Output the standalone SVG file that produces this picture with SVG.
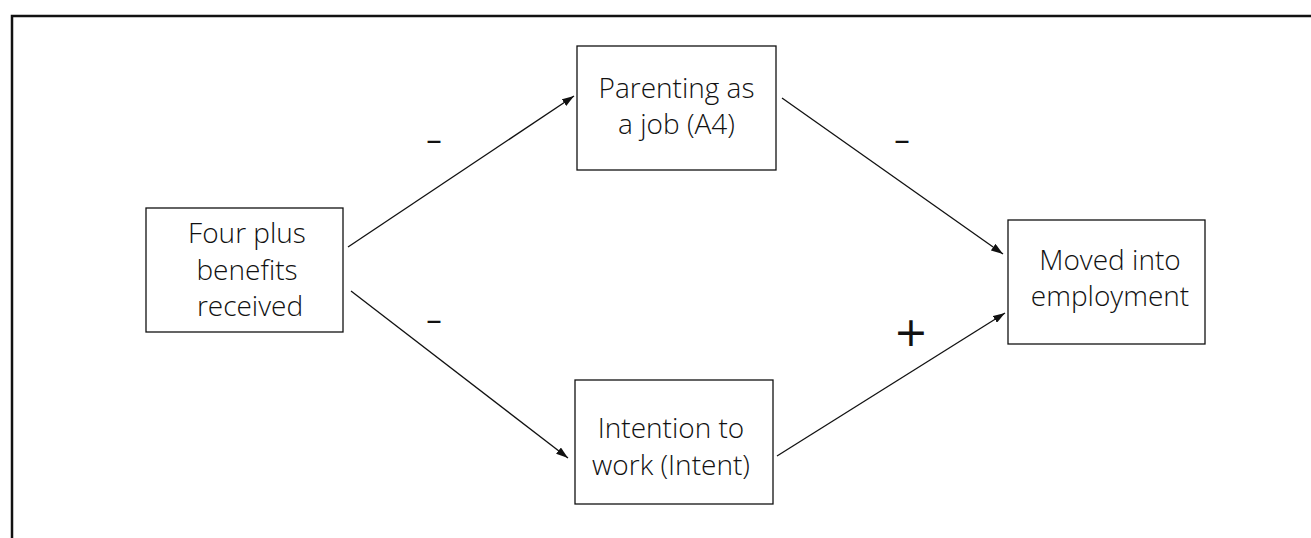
<svg xmlns="http://www.w3.org/2000/svg" width="1311" height="538" viewBox="0 0 1311 538">
<style>
.box{fill:#fff;stroke:#111;stroke-width:1.3}
.lbl{font-family:"Open Sans","Liberation Sans",sans-serif;font-size:28px;font-weight:300;fill:#111;text-anchor:middle}
.sign{font-family:"DejaVu Sans","Liberation Sans",sans-serif;fill:#111;text-anchor:middle}
.edge{stroke:#111;stroke-width:1.3;fill:none;marker-end:url(#ah)}
</style>
<defs>
<marker id="ah" markerUnits="userSpaceOnUse" markerWidth="12" markerHeight="8" viewBox="0 0 12 8" refX="12" refY="4" orient="auto">
<path d="M0,0 L12,4 L0,8 z" fill="#111"/>
</marker>
</defs>
<rect x="0" y="0" width="1311" height="538" fill="#fff"/>
<rect id="frame" x="12" y="16" width="1400" height="600" fill="none" stroke="#111" stroke-width="2.5"/>
<g id="connectors">
<line class="edge" x1="348" y1="247" x2="574" y2="96"/>
<line class="edge" x1="351" y1="291" x2="568" y2="458"/>
<line class="edge" x1="782" y1="98" x2="1003" y2="254"/>
<line class="edge" x1="777" y1="456" x2="1005" y2="313"/>
<text class="sign" x="434" y="151" font-size="32">–</text>
<text class="sign" x="434" y="331" font-size="32">–</text>
<text class="sign" x="902" y="151" font-size="32">–</text>
<text class="sign" x="911" y="346" font-size="41">+</text>
</g>
<g id="four">
<rect class="box" x="146" y="208" width="197" height="124"/>
<text class="lbl" x="247" y="243">Four plus</text>
<text class="lbl" x="247" y="280">benefits</text>
<text class="lbl" x="250" y="316">received</text>
</g>
<g id="parenting">
<rect class="box" x="577" y="46" width="199" height="124"/>
<text class="lbl" x="676.5" y="98">Parenting as</text>
<text class="lbl" x="676.5" y="134">a job (A4)</text>
</g>
<g id="intention">
<rect class="box" x="575" y="380" width="198" height="124"/>
<text class="lbl" x="671" y="438">Intention to</text>
<text class="lbl" x="671" y="475">work (Intent)</text>
</g>
<g id="moved">
<rect class="box" x="1008" y="220" width="197" height="124"/>
<text class="lbl" x="1110" y="270">Moved into</text>
<text class="lbl" x="1110" y="306">employment</text>
</g>
</svg>
